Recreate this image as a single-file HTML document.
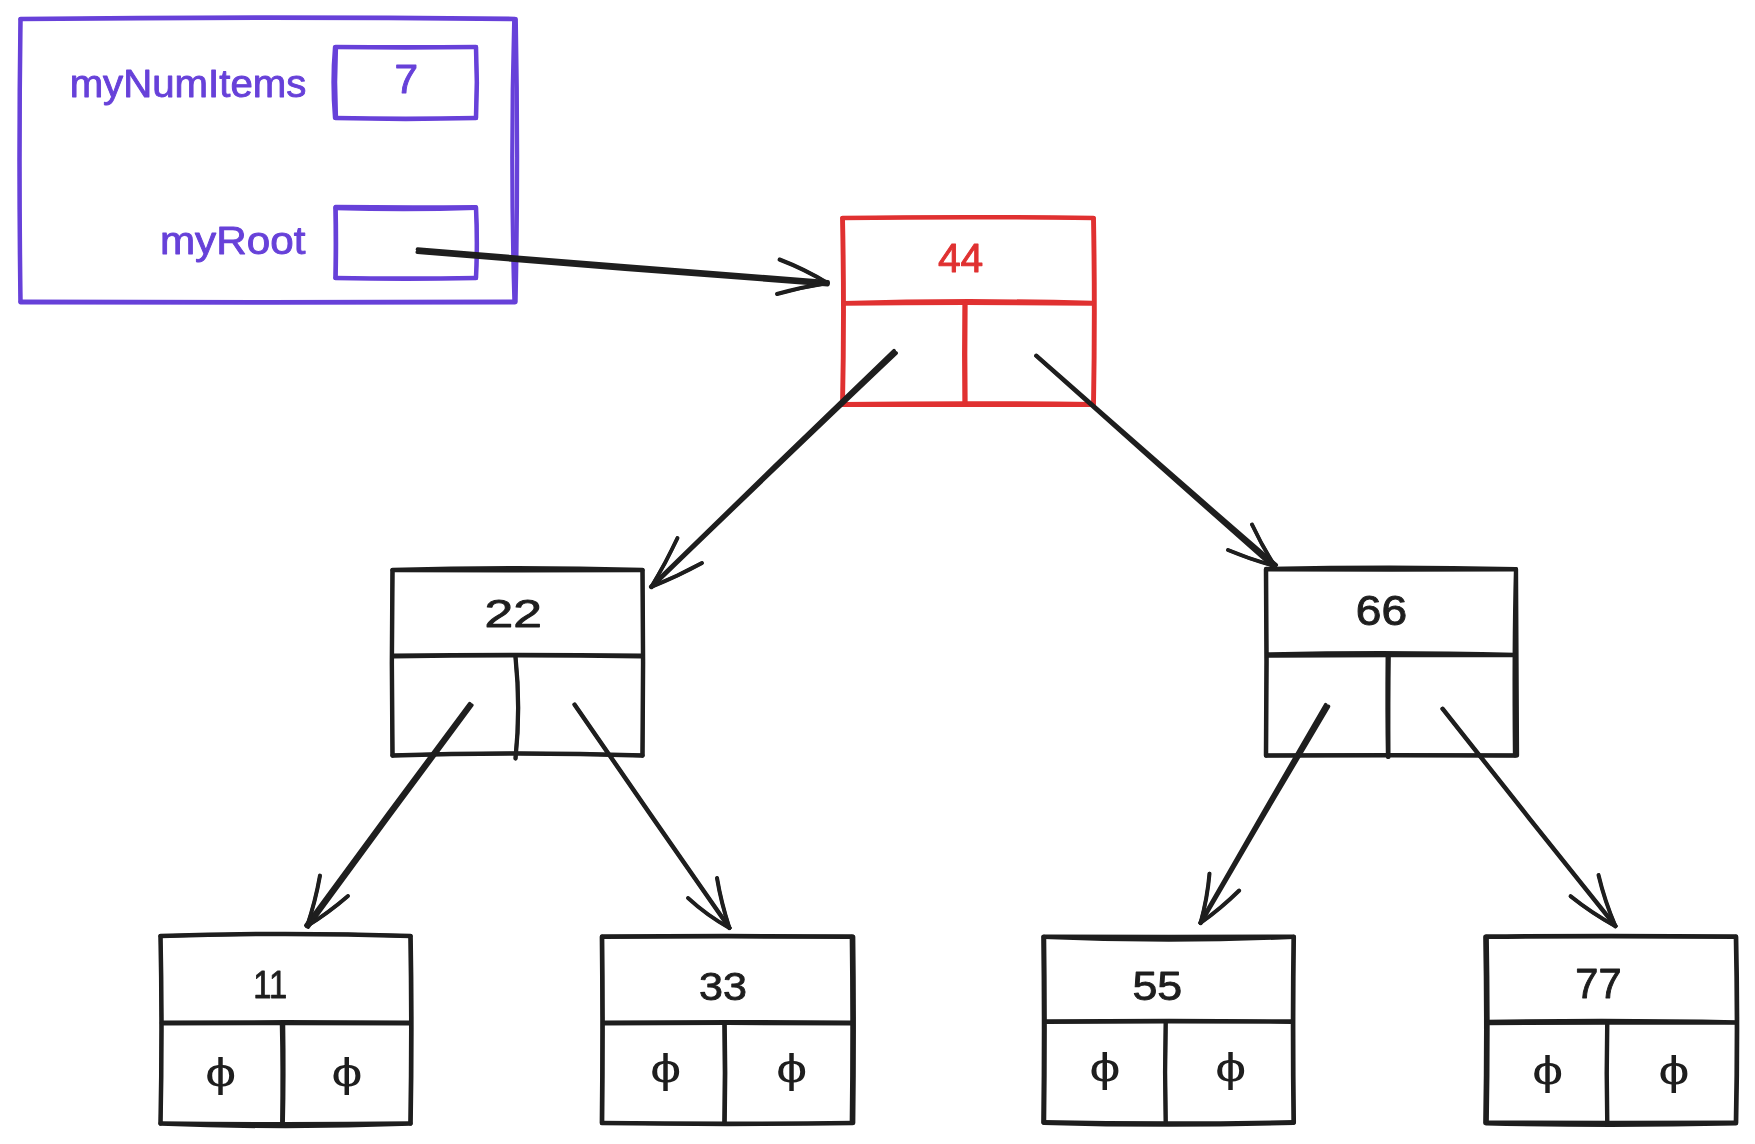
<!DOCTYPE html>
<html lang="en"><head><meta charset="utf-8"><title>Binary search tree diagram</title>
<style>
html,body{margin:0;padding:0;background:#fff;}
body{width:1755px;height:1144px;overflow:hidden;}
svg{display:block;}
svg text{font-family:"Liberation Sans",sans-serif;stroke-linejoin:round;}
svg path{fill:none;stroke-linecap:round;stroke-linejoin:round;}
</style></head><body>
<svg width="1755" height="1144" viewBox="0 0 1755 1144">
<rect width="1755" height="1144" fill="#ffffff"/>
<g stroke="#6741d9" stroke-width="3.9"><path d="M20.5 18.6C183.7 16.7 351.8 16.7 515.0 18.6"/><path d="M20.5 19.4C183.7 17.5 351.8 17.5 515.0 19.4"/></g>
<g stroke="#6741d9" stroke-width="4.2"><path d="M515.8 19.0C517.6 112.4 517.6 208.6 515.6 302.0"/><path d="M514.2 19.0C511.6 112.4 511.6 208.6 514.4 302.0"/></g>
<g stroke="#6741d9" stroke-width="3.9"><path d="M515.0 302.5C351.8 303.0 183.7 303.0 20.5 302.5"/><path d="M515.0 301.5C351.8 302.0 183.7 302.0 20.5 301.5"/></g>
<g stroke="#6741d9" stroke-width="3.9"><path d="M20.2 302.0C18.9 208.6 18.9 112.4 20.2 19.0"/><path d="M20.8 302.0C19.5 208.6 19.5 112.4 20.8 19.0"/></g>
<g stroke="#6741d9" stroke-width="3.9"><path d="M335.5 46.6C381.9 47.1 429.6 47.1 476.0 46.6"/><path d="M335.5 47.4C381.9 47.9 429.6 47.9 476.0 47.4"/></g>
<g stroke="#6741d9" stroke-width="3.9"><path d="M476.3 47.0C477.4 70.4 477.4 94.6 476.3 118.0"/><path d="M475.7 47.0C476.8 70.4 476.8 94.6 475.7 118.0"/></g>
<g stroke="#6741d9" stroke-width="3.9"><path d="M476.0 118.4C429.6 119.5 381.9 119.5 335.5 118.4"/><path d="M476.0 117.6C429.6 118.7 381.9 118.7 335.5 117.6"/></g>
<g stroke="#6741d9" stroke-width="3.9"><path d="M334.8 118.0C332.8 94.6 332.8 70.4 334.8 47.0"/><path d="M336.2 118.0C335.0 94.6 335.0 70.4 336.2 47.0"/></g>
<g stroke="#6741d9" stroke-width="3.9"><path d="M335.5 206.8C381.9 207.4 429.6 207.4 476.0 207.0"/><path d="M335.5 208.2C381.9 209.7 429.6 209.7 476.0 208.0"/></g>
<g stroke="#6741d9" stroke-width="3.9"><path d="M476.3 207.5C477.4 230.8 477.4 254.7 476.3 278.0"/><path d="M475.7 207.5C476.8 230.8 476.8 254.7 475.7 278.0"/></g>
<g stroke="#6741d9" stroke-width="3.9"><path d="M476.0 278.4C429.6 279.2 381.9 279.2 335.5 278.4"/><path d="M476.0 277.6C429.6 278.4 381.9 278.4 335.5 277.6"/></g>
<g stroke="#6741d9" stroke-width="3.9"><path d="M335.1 278.0C335.6 254.7 335.6 230.8 335.1 207.5"/><path d="M335.9 278.0C336.4 254.7 336.4 230.8 335.9 207.5"/></g>
<g stroke="#1e1e1e" stroke-width="3.9"><path d="M417.6 249.3C553.0 260.6 692.5 271.6 827.9 281.9"/><path d="M417.4 252.1C552.7 263.4 692.2 274.4 827.7 284.5"/></g>
<g stroke="#1e1e1e" stroke-width="3.6"><path d="M779.6 259.3C796.2 265.7 812.7 273.8 827.9 283.1"/><path d="M779.4 259.7C796.1 266.1 812.5 274.1 827.7 283.3"/></g>
<g stroke="#1e1e1e" stroke-width="3.6"><path d="M776.9 293.8C793.5 289.2 810.8 285.5 827.8 283.1"/><path d="M777.1 294.2C793.6 289.6 810.9 285.9 827.8 283.3"/></g>
<g stroke="#e03131" stroke-width="3.9"><path d="M842.5 217.7C925.3 216.6 1010.7 216.6 1093.5 217.7"/><path d="M842.5 218.3C925.3 217.2 1010.7 217.2 1093.5 218.3"/></g>
<g stroke="#e03131" stroke-width="3.9"><path d="M1094.0 218.0C1095.1 279.5 1095.1 343.0 1094.0 404.5"/><path d="M1093.0 218.0C1094.1 279.5 1094.1 343.0 1093.0 404.5"/></g>
<g stroke="#e03131" stroke-width="3.9"><path d="M1093.5 405.0C1010.7 404.9 925.3 404.9 842.5 405.0"/><path d="M1093.5 404.0C1010.7 402.8 925.3 402.8 842.5 404.0"/></g>
<g stroke="#e03131" stroke-width="3.9"><path d="M842.0 404.5C843.3 343.0 843.3 279.5 842.0 218.0"/><path d="M843.0 404.5C844.3 343.0 844.3 279.5 843.0 218.0"/></g>
<g stroke="#e03131" stroke-width="3.9"><path d="M843.7 302.9C925.7 300.5 1010.3 300.5 1092.3 302.8"/><path d="M843.7 303.7C925.7 302.9 1010.3 302.9 1092.3 303.8"/></g>
<g stroke="#e03131" stroke-width="3.9"><path d="M965.7 304.3C965.3 337.0 965.3 370.8 965.7 403.5"/><path d="M964.3 304.3C963.9 337.0 963.9 370.8 964.3 403.5"/></g>
<g stroke="#1e1e1e" stroke-width="3.9"><path d="M392.5 569.7C475.0 567.3 560.0 567.3 642.5 569.7"/><path d="M392.5 570.3C475.0 570.6 560.0 570.6 642.5 570.3"/></g>
<g stroke="#1e1e1e" stroke-width="3.9"><path d="M642.8 570.0C643.5 631.2 643.5 694.3 642.8 755.5"/><path d="M642.2 570.0C643.0 631.2 643.0 694.3 642.2 755.5"/></g>
<g stroke="#1e1e1e" stroke-width="3.9"><path d="M642.5 755.8C560.0 753.1 475.0 753.1 392.5 755.8"/><path d="M642.5 755.2C560.0 752.5 475.0 752.5 392.5 755.2"/></g>
<g stroke="#1e1e1e" stroke-width="3.9"><path d="M392.2 755.5C391.4 694.3 391.4 631.2 392.2 570.0"/><path d="M392.8 755.5C391.9 694.3 391.9 631.2 392.8 570.0"/></g>
<g stroke="#1e1e1e" stroke-width="3.9"><path d="M393.7 655.5C475.4 654.4 559.6 654.4 641.3 655.5"/><path d="M393.7 656.5C475.4 655.4 559.6 655.4 641.3 656.5"/></g>
<g stroke="#1e1e1e" stroke-width="3.9"><path d="M515.7 657.0C519.2 690.5 519.2 725.0 515.7 758.5"/><path d="M515.3 657.0C518.8 690.5 518.8 725.0 515.3 758.5"/></g>
<g stroke="#1e1e1e" stroke-width="3.9"><path d="M1266.0 568.8C1348.5 566.9 1433.5 566.9 1516.0 568.9"/><path d="M1266.0 569.6C1348.5 569.9 1433.5 569.9 1516.0 569.5"/></g>
<g stroke="#1e1e1e" stroke-width="3.9"><path d="M1516.2 569.2C1516.7 630.7 1516.7 694.0 1517.2 755.5"/><path d="M1515.8 569.2C1514.2 630.7 1514.2 694.0 1514.8 755.5"/></g>
<g stroke="#1e1e1e" stroke-width="3.9"><path d="M1516.0 755.8C1433.5 755.3 1348.5 755.3 1266.0 755.8"/><path d="M1516.0 755.2C1433.5 754.7 1348.5 754.7 1266.0 755.2"/></g>
<g stroke="#1e1e1e" stroke-width="3.9"><path d="M1265.7 755.5C1266.4 694.0 1266.4 630.7 1265.7 569.2"/><path d="M1266.3 755.5C1267.0 694.0 1267.0 630.7 1266.3 569.2"/></g>
<g stroke="#1e1e1e" stroke-width="3.9"><path d="M1267.2 654.2C1348.9 652.6 1433.1 652.6 1514.8 654.8"/><path d="M1267.2 655.8C1348.9 655.2 1433.1 655.2 1514.8 655.2"/></g>
<g stroke="#1e1e1e" stroke-width="3.9"><path d="M1388.9 656.0C1388.4 689.3 1388.4 723.7 1388.6 757.0"/><path d="M1387.5 656.0C1387.2 689.3 1387.2 723.7 1387.8 757.0"/></g>
<g stroke="#1e1e1e" stroke-width="3.9"><path d="M160.5 935.7C243.0 933.0 328.0 933.0 410.5 935.7"/><path d="M160.5 936.3C243.0 933.6 328.0 933.6 410.5 936.3"/></g>
<g stroke="#1e1e1e" stroke-width="3.9"><path d="M410.9 936.0C412.0 997.9 412.0 1061.6 410.9 1123.5"/><path d="M410.1 936.0C411.2 997.9 411.2 1061.6 410.1 1123.5"/></g>
<g stroke="#1e1e1e" stroke-width="3.9"><path d="M410.5 1123.9C328.0 1127.1 243.0 1127.1 160.5 1123.9"/><path d="M410.5 1123.1C328.0 1124.2 243.0 1124.2 160.5 1123.1"/></g>
<g stroke="#1e1e1e" stroke-width="3.9"><path d="M160.2 1123.5C161.5 1061.6 161.5 997.9 160.2 936.0"/><path d="M160.8 1123.5C162.1 1061.6 162.1 997.9 160.8 936.0"/></g>
<g stroke="#1e1e1e" stroke-width="3.9"><path d="M161.7 1022.4C243.4 1021.9 327.6 1021.9 409.3 1022.4"/><path d="M161.7 1023.6C243.4 1023.1 327.6 1023.1 409.3 1023.6"/></g>
<g stroke="#1e1e1e" stroke-width="3.9"><path d="M283.3 1024.0C283.8 1056.5 283.8 1090.0 283.0 1122.5"/><path d="M281.7 1024.0C282.5 1056.5 282.5 1090.0 282.0 1122.5"/></g>
<g stroke="#1e1e1e" stroke-width="3.9"><path d="M602.0 936.3C684.7 935.6 769.8 935.6 852.5 936.3"/><path d="M602.0 937.1C684.7 936.4 769.8 936.4 852.5 937.1"/></g>
<g stroke="#1e1e1e" stroke-width="3.9"><path d="M853.4 936.7C854.2 998.2 854.2 1061.5 853.4 1123.0"/><path d="M851.6 936.7C852.4 998.2 852.4 1061.5 851.6 1123.0"/></g>
<g stroke="#1e1e1e" stroke-width="3.9"><path d="M852.5 1123.4C769.8 1124.5 684.7 1124.5 602.0 1123.4"/><path d="M852.5 1122.6C769.8 1123.7 684.7 1123.7 602.0 1122.6"/></g>
<g stroke="#1e1e1e" stroke-width="3.9"><path d="M601.6 1123.0C602.3 1061.5 602.3 998.2 601.6 936.7"/><path d="M602.4 1123.0C603.1 1061.5 603.1 998.2 602.4 936.7"/></g>
<g stroke="#1e1e1e" stroke-width="3.9"><path d="M603.2 1022.4C685.1 1021.7 769.4 1021.7 851.3 1022.4"/><path d="M603.2 1023.6C685.1 1022.9 769.4 1022.9 851.3 1023.6"/></g>
<g stroke="#1e1e1e" stroke-width="3.9"><path d="M724.9 1024.0C725.6 1056.3 725.6 1089.7 724.9 1122.0"/><path d="M724.1 1024.0C724.8 1056.3 724.8 1089.7 724.1 1122.0"/></g>
<g stroke="#1e1e1e" stroke-width="3.9"><path d="M1043.7 936.4C1126.2 936.9 1211.2 936.9 1293.7 936.4"/><path d="M1043.7 937.0C1126.2 940.7 1211.2 940.7 1293.7 937.0"/></g>
<g stroke="#1e1e1e" stroke-width="3.9"><path d="M1294.1 936.7C1293.3 998.0 1293.3 1061.2 1294.1 1122.5"/><path d="M1293.3 936.7C1292.5 998.0 1292.5 1061.2 1293.3 1122.5"/></g>
<g stroke="#1e1e1e" stroke-width="3.9"><path d="M1293.7 1123.0C1211.2 1125.5 1126.2 1125.5 1043.7 1123.0"/><path d="M1293.7 1122.0C1211.2 1123.7 1126.2 1123.7 1043.7 1122.0"/></g>
<g stroke="#1e1e1e" stroke-width="3.9"><path d="M1043.1 1122.5C1043.9 1061.2 1043.9 998.0 1043.1 936.7"/><path d="M1044.3 1122.5C1045.1 1061.2 1045.1 998.0 1044.3 936.7"/></g>
<g stroke="#1e1e1e" stroke-width="3.9"><path d="M1044.9 1021.3C1126.6 1020.5 1210.8 1020.5 1292.5 1021.3"/><path d="M1044.9 1022.1C1126.6 1021.3 1210.8 1021.3 1292.5 1022.1"/></g>
<g stroke="#1e1e1e" stroke-width="3.9"><path d="M1165.9 1022.7C1165.1 1055.3 1165.1 1088.9 1165.9 1121.5"/><path d="M1165.5 1022.7C1164.7 1055.3 1164.7 1088.9 1165.5 1121.5"/></g>
<g stroke="#1e1e1e" stroke-width="3.9"><path d="M1486.0 936.3C1568.5 935.5 1653.5 935.5 1736.0 936.3"/><path d="M1486.0 937.1C1568.5 936.3 1653.5 936.3 1736.0 937.1"/></g>
<g stroke="#1e1e1e" stroke-width="3.9"><path d="M1736.4 936.7C1737.7 998.2 1737.7 1061.5 1736.4 1123.0"/><path d="M1735.6 936.7C1736.9 998.2 1736.9 1061.5 1735.6 1123.0"/></g>
<g stroke="#1e1e1e" stroke-width="3.9"><path d="M1736.0 1123.5C1653.5 1125.4 1568.5 1125.4 1486.0 1123.5"/><path d="M1736.0 1122.5C1653.5 1122.8 1568.5 1122.8 1486.0 1122.5"/></g>
<g stroke="#1e1e1e" stroke-width="3.9"><path d="M1485.1 1123.0C1486.2 1061.5 1486.2 998.2 1485.1 936.7"/><path d="M1486.9 1123.0C1488.0 1061.5 1488.0 998.2 1486.9 936.7"/></g>
<g stroke="#1e1e1e" stroke-width="3.9"><path d="M1487.2 1021.7C1568.9 1020.3 1653.1 1020.3 1734.8 1022.2"/><path d="M1487.2 1023.3C1568.9 1022.6 1653.1 1022.6 1734.8 1022.8"/></g>
<g stroke="#1e1e1e" stroke-width="3.9"><path d="M1607.5 1023.5C1606.8 1056.0 1606.8 1089.5 1607.5 1122.0"/><path d="M1607.0 1023.5C1606.3 1056.0 1606.3 1089.5 1607.0 1122.0"/></g>
<g stroke="#1e1e1e" stroke-width="3.9"><path d="M896.0 353.1C814.8 429.8 731.9 509.7 651.5 587.3"/><path d="M894.0 350.9C813.5 428.5 730.6 508.4 650.9 586.7"/></g>
<g stroke="#1e1e1e" stroke-width="3.6"><path d="M677.7 538.1C669.9 554.8 661.0 571.4 651.3 587.1"/><path d="M677.3 537.9C669.6 554.6 660.6 571.2 651.1 586.9"/></g>
<g stroke="#1e1e1e" stroke-width="3.6"><path d="M702.1 563.2C685.8 572.1 668.5 580.2 651.3 587.1"/><path d="M701.9 562.8C685.6 571.7 668.3 579.9 651.1 586.9"/></g>
<g stroke="#1e1e1e" stroke-width="3.9"><path d="M1036.3 355.5C1115.2 424.9 1196.4 496.5 1276.1 565.0"/><path d="M1036.1 355.9C1114.1 426.2 1195.2 497.8 1273.9 567.4"/></g>
<g stroke="#1e1e1e" stroke-width="3.6"><path d="M1252.2 524.4C1258.8 538.7 1266.7 552.9 1275.1 566.1"/><path d="M1251.8 524.6C1258.5 538.9 1266.3 553.1 1274.9 566.3"/></g>
<g stroke="#1e1e1e" stroke-width="3.6"><path d="M1228.1 549.8C1243.2 556.2 1259.2 561.7 1275.0 566.1"/><path d="M1227.9 550.2C1243.1 556.5 1259.1 562.1 1275.0 566.3"/></g>
<g stroke="#1e1e1e" stroke-width="3.9"><path d="M471.7 705.2C417.4 778.2 361.7 853.5 308.0 927.0"/><path d="M469.7 703.8C415.4 776.7 359.7 852.1 306.0 925.4"/></g>
<g stroke="#1e1e1e" stroke-width="3.6"><path d="M320.2 875.6C317.2 892.6 312.8 909.8 307.1 926.2"/><path d="M319.8 875.4C316.8 892.5 312.4 909.8 306.9 926.2"/></g>
<g stroke="#1e1e1e" stroke-width="3.6"><path d="M348.1 896.2C335.4 907.2 321.4 917.5 307.1 926.3"/><path d="M347.9 895.8C335.1 906.9 321.2 917.1 306.9 926.1"/></g>
<g stroke="#1e1e1e" stroke-width="3.9"><path d="M574.7 704.3C625.6 778.3 678.3 854.3 729.7 927.8"/><path d="M574.3 704.7C625.1 778.7 677.8 854.6 729.3 928.2"/></g>
<g stroke="#1e1e1e" stroke-width="3.6"><path d="M688.1 897.8C700.6 909.4 714.8 919.6 729.6 927.9"/><path d="M687.9 898.2C700.4 909.7 714.5 919.9 729.4 928.1"/></g>
<g stroke="#1e1e1e" stroke-width="3.6"><path d="M717.2 877.9C720.0 894.8 724.3 911.8 729.6 928.0"/><path d="M716.8 878.1C719.6 894.9 723.9 911.9 729.4 928.0"/></g>
<g stroke="#1e1e1e" stroke-width="3.9"><path d="M1328.3 706.5C1285.7 777.7 1242.7 851.6 1200.8 923.2"/><path d="M1325.7 704.9C1284.1 776.7 1241.1 850.6 1200.2 922.8"/></g>
<g stroke="#1e1e1e" stroke-width="3.6"><path d="M1209.7 873.5C1208.3 890.2 1205.2 907.0 1200.6 923.0"/><path d="M1209.3 873.5C1207.9 890.1 1204.8 906.9 1200.4 923.0"/></g>
<g stroke="#1e1e1e" stroke-width="3.6"><path d="M1239.4 890.7C1227.4 902.4 1214.3 913.4 1200.6 923.1"/><path d="M1239.0 890.3C1227.2 902.1 1214.0 913.1 1200.4 922.9"/></g>
<g stroke="#1e1e1e" stroke-width="3.9"><path d="M1442.7 708.5C1499.5 780.5 1558.3 854.5 1615.7 926.0"/><path d="M1442.3 708.9C1499.0 780.9 1557.9 854.9 1615.3 926.4"/></g>
<g stroke="#1e1e1e" stroke-width="3.6"><path d="M1570.6 896.0C1584.6 907.3 1599.9 917.5 1615.6 926.1"/><path d="M1570.4 896.4C1584.4 907.6 1599.7 917.8 1615.4 926.3"/></g>
<g stroke="#1e1e1e" stroke-width="3.6"><path d="M1598.7 874.9C1602.8 892.3 1608.6 909.7 1615.6 926.2"/><path d="M1598.3 875.1C1602.4 892.5 1608.2 909.9 1615.4 926.2"/></g>
<g opacity="0.999">
<text transform="translate(188.00 97.05) scale(1.005 0.989)" fill="#6741d9" stroke="#6741d9" stroke-width="0.9" font-size="40" text-anchor="middle">myNumItems</text>
<text transform="translate(406.20 93.25) scale(1.061 1.039)" fill="#6741d9" stroke="#6741d9" stroke-width="0.9" font-size="40" text-anchor="middle">7</text>
<text transform="translate(232.67 254.05) scale(1.056 0.986)" fill="#6741d9" stroke="#6741d9" stroke-width="0.9" font-size="40" text-anchor="middle">myRoot</text>
<text transform="translate(960.60 272.05) scale(1.021 1.039)" fill="#e03131" stroke="#e03131" stroke-width="0.9" font-size="40" text-anchor="middle">44</text>
<text transform="translate(513.25 627.05) scale(1.290 0.968)" fill="#1e1e1e" stroke="#1e1e1e" stroke-width="0.9" font-size="40" text-anchor="middle">22</text>
<text transform="translate(1381.52 625.05) scale(1.154 1.057)" fill="#1e1e1e" stroke="#1e1e1e" stroke-width="0.9" font-size="40" text-anchor="middle">66</text>
<text transform="translate(270.19 998.05) scale(0.819 0.986)" fill="#1e1e1e" stroke="#1e1e1e" stroke-width="0.9" font-size="40" text-anchor="middle">11</text>
<text transform="translate(220.60 1086.55) scale(1.400 1.018)" fill="#1e1e1e" font-size="40" text-anchor="middle">ϕ</text>
<text transform="translate(347.00 1086.55) scale(1.400 1.018)" fill="#1e1e1e" font-size="40" text-anchor="middle">ϕ</text>
<text transform="translate(723.10 999.55) scale(1.079 0.979)" fill="#1e1e1e" stroke="#1e1e1e" stroke-width="0.9" font-size="40" text-anchor="middle">33</text>
<text transform="translate(665.70 1083.45) scale(1.400 1.032)" fill="#1e1e1e" font-size="40" text-anchor="middle">ϕ</text>
<text transform="translate(791.70 1083.45) scale(1.400 1.032)" fill="#1e1e1e" font-size="40" text-anchor="middle">ϕ</text>
<text transform="translate(1157.29 1000.05) scale(1.117 1.021)" fill="#1e1e1e" stroke="#1e1e1e" stroke-width="0.9" font-size="40" text-anchor="middle">55</text>
<text transform="translate(1105.00 1082.33) scale(1.400 1.021)" fill="#1e1e1e" font-size="40" text-anchor="middle">ϕ</text>
<text transform="translate(1230.70 1082.33) scale(1.400 1.021)" fill="#1e1e1e" font-size="40" text-anchor="middle">ϕ</text>
<text transform="translate(1598.45 998.05) scale(1.040 1.057)" fill="#1e1e1e" stroke="#1e1e1e" stroke-width="0.9" font-size="40" text-anchor="middle">77</text>
<text transform="translate(1547.70 1085.39) scale(1.400 1.013)" fill="#1e1e1e" font-size="40" text-anchor="middle">ϕ</text>
<text transform="translate(1674.00 1085.39) scale(1.400 1.013)" fill="#1e1e1e" font-size="40" text-anchor="middle">ϕ</text>
</g>
</svg>
</body></html>
